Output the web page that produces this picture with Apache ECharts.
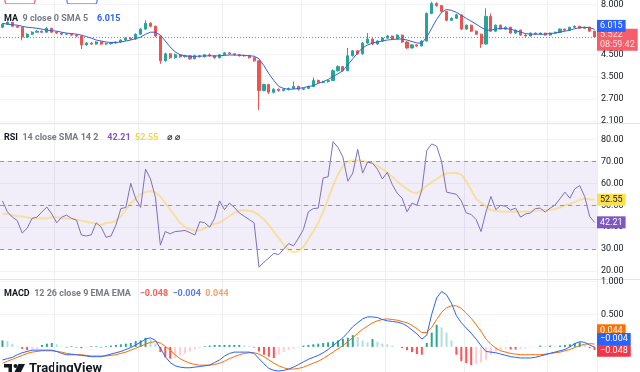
<!DOCTYPE html>
<html><head><meta charset="utf-8">
<script src="https://cdn.jsdelivr.net/npm/echarts@6/dist/echarts.min.js"></script>
<style>html,body{margin:0;padding:0;background:#fff}#c{width:640px;height:372px}</style>
</head><body><div id="c"></div>
<script>
// ---- price candles (open, close, low, high) ----
const opens = [
6.16,6.38,6.52,6.23,6.16,5.50,5.69,5.82,5.89,5.82,
6.09,5.82,5.76,5.69,5.70,5.63,5.57,5.03,5.14,5.08,
5.20,5.08,5.10,5.14,5.20,5.32,5.44,5.38,5.69,6.03,
6.45,6.23,5.57,4.19,4.54,4.34,4.49,4.39,4.44,4.29,
4.44,4.39,4.49,4.44,4.34,4.49,4.59,4.54,4.49,4.44,
4.45,4.34,4.19,2.98,3.19,2.92,3.02,2.98,3.02,3.05,
3.12,3.02,3.05,3.12,3.34,3.27,3.30,3.34,3.74,3.92,
3.74,4.44,4.70,4.54,5.14,5.38,5.08,5.26,5.44,5.57,
5.38,5.63,5.20,4.86,5.03,4.97,5.26,7.22,8.09,7.91,
7.39,6.67,6.83,7.10,6.03,6.31,5.89,5.69,5.08,6.98,
5.89,6.31,6.03,6.16,5.76,5.96,5.63,5.57,5.76,5.69,
5.76,5.63,5.76,5.82,6.03,5.96,6.16,6.23,6.09,6.16,
5.89];
const closes = [
6.38,6.52,6.23,6.16,5.50,5.69,5.82,5.89,5.82,6.09,
5.82,5.76,5.69,5.70,5.63,5.57,5.03,5.14,5.08,5.20,
5.08,5.10,5.14,5.20,5.32,5.44,5.38,5.69,6.03,6.45,
6.23,5.57,4.19,4.54,4.34,4.49,4.39,4.44,4.29,4.44,
4.39,4.49,4.44,4.34,4.49,4.59,4.54,4.49,4.44,4.45,
4.34,4.19,2.98,3.19,2.92,3.02,2.98,3.02,3.05,3.12,
3.02,3.05,3.12,3.34,3.27,3.30,3.34,3.74,3.92,3.74,
4.44,4.70,4.54,5.14,5.38,5.08,5.26,5.44,5.57,5.38,
5.63,5.20,4.86,5.03,4.97,5.26,7.22,8.09,7.91,7.39,
6.67,6.83,7.10,6.03,6.31,5.89,5.69,5.08,6.98,5.89,
6.31,6.03,6.16,5.76,5.96,5.63,5.57,5.76,5.69,5.76,
5.63,5.76,5.82,6.03,5.96,6.16,6.23,6.09,6.16,5.89,
5.522];
const lows = [
6.10,6.33,6.20,6.10,5.30,5.45,5.65,5.78,5.76,5.78,
5.78,5.70,5.64,5.63,5.58,5.50,4.80,4.98,5.02,5.04,
5.02,5.02,5.05,5.10,5.16,5.28,5.32,5.34,5.65,5.98,
6.15,5.50,4.05,4.15,4.28,4.30,4.33,4.35,4.24,4.26,
4.34,4.36,4.40,4.30,4.31,4.45,4.50,4.45,4.40,4.39,
4.30,4.15,2.38,2.95,2.86,2.88,2.94,2.95,2.98,3.02,
2.98,2.99,3.03,3.10,3.22,3.24,3.26,3.32,3.70,3.70,
3.72,4.40,4.48,4.50,5.10,5.02,5.04,5.22,5.40,5.33,
5.35,5.15,4.80,4.82,4.92,4.94,5.22,7.15,7.80,7.30,
6.60,6.62,6.78,5.98,5.98,5.84,5.64,4.86,5.05,5.84,
5.85,5.98,5.98,5.72,5.72,5.58,5.52,5.54,5.65,5.66,
5.60,5.60,5.72,5.78,5.92,5.92,6.12,6.05,6.05,5.85,
5.48];
const highs = [
6.45,6.60,6.55,6.28,6.20,5.75,5.88,5.95,5.93,6.20,
6.12,5.86,5.80,5.74,5.74,5.68,5.60,5.20,5.20,5.25,
5.24,5.16,5.20,5.24,5.36,5.50,5.48,5.75,6.10,6.67,
6.52,6.28,5.60,4.60,4.58,4.55,4.52,4.48,4.47,4.50,
4.48,4.53,4.56,4.47,4.52,4.63,4.64,4.58,4.53,4.50,
4.48,4.38,4.22,3.22,3.22,3.06,3.05,3.05,3.08,3.30,
3.15,3.08,3.15,3.46,3.38,3.33,3.37,3.80,3.98,3.95,
4.86,4.75,4.75,5.20,5.76,5.42,5.30,5.50,5.65,5.60,
5.68,5.66,5.24,5.08,5.06,5.30,7.30,8.25,8.20,7.95,
7.45,6.90,7.20,7.12,6.36,6.35,5.94,5.72,7.65,7.20,
6.36,6.35,6.22,6.20,6.00,6.00,5.70,5.80,5.80,5.80,
5.78,5.80,5.86,6.08,6.06,6.20,6.28,6.27,6.20,6.20,
5.92];
const maValues = [
6.45,6.38,6.34,6.31,6.23,6.16,6.13,6.09,6.03,5.96,
5.92,5.89,5.82,5.76,5.73,5.69,5.63,5.53,5.44,5.32,
5.26,5.20,5.17,5.17,5.20,5.26,5.32,5.41,5.50,5.69,
5.82,5.82,5.63,5.26,4.91,4.64,4.49,4.44,4.41,4.41,
4.42,4.43,4.44,4.43,4.44,4.46,4.48,4.48,4.47,4.46,
4.44,4.42,4.29,3.96,3.61,3.34,3.12,3.05,3.02,3.03,
3.05,3.08,3.12,3.15,3.23,3.30,3.38,3.50,3.61,3.74,
4.00,4.29,4.59,4.86,5.03,5.14,5.20,5.26,5.32,5.35,
5.38,5.38,5.32,5.23,5.14,5.14,5.50,6.09,6.75,7.31,
7.56,7.48,7.31,7.06,6.83,6.60,6.38,6.16,5.96,5.96,
6.03,6.09,6.06,6.03,5.92,5.82,5.73,5.69,5.69,5.69,
5.69,5.73,5.76,5.82,5.89,5.96,6.06,6.13,6.16,6.13,
6.015];
// ---- RSI ----
const rsiValues = [
52,47,44.6,43,37.3,39.5,44,44.6,47,49.2,
46,42,44.6,45.5,44,43.2,36.4,36,36.5,42,
40,35.4,36,41,48.5,49,60,53,49,66.5,
62,53.7,31.8,38,37,38,38.2,38.5,37.5,36.4,
42.5,42,40,44,52,48,51,49,46.5,45,
43.5,42,21.7,24,26,28,27.5,30,32.5,31.5,
35,39,47,48.5,48.7,62.5,63,79,76.5,72,
61,64.7,75.5,64.7,69.7,69.2,66.5,62,65,59.5,
55.5,53.2,47,51,50,57,75,78,77,70,
56,55.5,55,52,46.5,45.8,43.5,38,47,54,
48,50,49.5,47.8,48.7,44.6,46,46.5,48.5,48.7,
46.9,48.7,50.1,53,56,53.2,57.5,59,54,45,
42.21];
const rsiSmaValues = [
46,46,45.5,45,45,44.5,44,44,44,44,44.5,44.5,44,44,44,43.5,43,42.5,42,41.5,41,
42,42,43,45,48,51,
53,55,56,56.5,56,
54,51,48,45,42,40,39,38.5,38.5,
39.5,40.5,41.5,42,
43.5,45,46.5,47.5,47.8,47.5,47,
45.5,43.5,41,38,35,32,29.5,28.6,29,
31,34.5,38,42,47,53,
59,64,68,70,70.6,70.6,70.3,69.8,69,
68,66.5,65,63,61,59,57.5,56,55.5,
57,59,60.5,62,63.5,64.5,64.7,64.7,
64,61,57,53,51,49.5,47.8,
47.5,47.2,47,47,47,47,47.2,47.3,47.5,47.6,47.8,48,48.3,
49,50,50.5,51.5,52.5,53,52.8,52.55];
// ---- MACD ----
const macdValues = [
-0.20,-0.18,-0.16,-0.12,-0.09,-0.07,-0.05,-0.05,-0.05,-0.05,
-0.05,-0.07,-0.10,-0.12,-0.12,-0.12,-0.13,-0.14,-0.15,-0.15,
-0.15,-0.13,-0.11,-0.09,-0.07,-0.04,-0.01,0.03,0.07,0.12,
0.14,0.10,-0.02,-0.15,-0.24,-0.29,-0.31,-0.32,-0.32,-0.31,
-0.30,-0.29,-0.28,-0.24,-0.20,-0.14,-0.10,-0.08,-0.08,-0.08,
-0.08,-0.10,-0.18,-0.26,-0.33,-0.36,-0.37,-0.36,-0.34,-0.31,
-0.27,-0.23,-0.19,-0.16,-0.13,-0.09,-0.04,0.02,0.08,0.14,
0.22,0.31,0.37,0.43,0.46,0.46,0.45,0.42,0.40,0.39,
0.38,0.36,0.32,0.26,0.20,0.12,0.18,0.50,0.75,0.85,
0.80,0.67,0.48,0.37,0.29,0.21,0.12,0.02,-0.07,-0.08,
-0.09,-0.11,-0.13,-0.15,-0.16,-0.17,-0.17,-0.17,-0.16,-0.14,
-0.12,-0.10,-0.08,-0.06,-0.04,0.00,0.05,0.08,0.07,0.03,
-0.004];
const signalValues = [
-0.25,-0.22,-0.19,-0.16,-0.13,-0.10,-0.08,-0.07,-0.06,-0.06,
-0.06,-0.07,-0.08,-0.10,-0.11,-0.12,-0.12,-0.13,-0.14,-0.14,
-0.14,-0.14,-0.13,-0.12,-0.10,-0.08,-0.05,-0.02,0.01,0.04,
0.07,0.08,0.06,0.01,-0.05,-0.12,-0.18,-0.22,-0.25,-0.27,
-0.28,-0.28,-0.28,-0.27,-0.25,-0.22,-0.18,-0.15,-0.12,-0.10,
-0.09,-0.09,-0.11,-0.15,-0.20,-0.25,-0.29,-0.32,-0.34,-0.34,
-0.33,-0.31,-0.28,-0.25,-0.22,-0.18,-0.13,-0.08,-0.03,0.02,
0.08,0.14,0.21,0.27,0.32,0.37,0.40,0.42,0.43,0.42,
0.41,0.39,0.37,0.33,0.28,0.22,0.22,0.30,0.42,0.53,
0.60,0.63,0.63,0.59,0.52,0.44,0.34,0.24,0.12,0.04,
-0.02,-0.06,-0.08,-0.10,-0.11,-0.12,-0.12,-0.12,-0.12,-0.12,
-0.11,-0.10,-0.09,-0.08,-0.06,-0.04,-0.01,0.02,0.04,0.05,
0.044];
const histValues = [
0.10,0.09,0.05,0.01,-0.03,-0.05,-0.04,-0.03,0.03,0.05,
0.06,0.04,0.01,-0.01,0.01,-0.01,-0.02,-0.01,0.01,0.01,
-0.01,0.01,0.02,0.03,0.04,0.05,0.06,0.09,0.10,0.14,
0.12,0.05,-0.08,-0.16,-0.18,-0.17,-0.13,-0.10,-0.07,-0.04,
-0.02,0.01,0.02,0.03,0.03,0.03,0.03,0.03,0.03,0.02,
0.01,-0.01,-0.07,-0.12,-0.15,-0.17,-0.12,-0.08,-0.05,-0.03,
-0.01,0.02,0.03,0.04,0.05,0.06,0.07,0.08,0.10,0.12,
0.14,0.18,0.15,0.10,0.07,0.12,0.08,0.05,0.04,0.02,
0.00,-0.02,-0.05,-0.08,-0.11,-0.12,0.06,0.22,0.34,0.30,
0.22,0.10,-0.12,-0.22,-0.25,-0.28,-0.26,-0.24,-0.20,-0.12,
-0.07,-0.04,-0.03,-0.04,-0.04,-0.03,-0.02,-0.01,0.00,0.02,
0.01,0.02,0.01,0.02,0.03,0.04,0.06,0.07,0.03,-0.02,
-0.048];
// ---- ticks / texts ----
const priceTicks = [2.1, 2.7, 3.5, 4.5, 8.0];
const rsiTicks = [20, 30, 40, 50, 60, 70, 80];
const rsiLevels = [70, 50, 30];
const macdTicks = [0.5, 1.0];
const timeGridIdx = [11, 28, 45, 61, 78, 94, 111];
const quoteTexts = ['5.522', '5.382', '5.524'];
const countdown = '08:59:42';

const FONT = 'Roboto, "DejaVu Sans", sans-serif';
const cats = closes.map((_, i) => String(i));
const last = a => a[a.length - 1];
const sgn3 = v => (v < 0 ? '\u2212' : '') + Math.abs(v).toFixed(3);
const candles = opens.map((o, i) => [o, closes[i], lows[i], highs[i]]);
const histData = histValues.map((v, i) => {
  const p = i > 0 ? histValues[i - 1] : v;
  let c;
  if (v >= 0) c = v >= p ? '#26A69A' : '#B2DFDB';
  else c = v <= p ? '#FF5252' : '#FFCDD2';
  return { value: v, itemStyle: { color: c } };
});

function xAx(gi) {
  return { type: 'category', gridIndex: gi, data: cats, boundaryGap: true,
    axisLine: { show: false }, axisTick: { show: false }, axisLabel: { show: false },
    splitLine: { show: true, interval: (idx) => timeGridIdx.includes(idx), lineStyle: { color: '#eceef2', width: 1 } } };
}
const labelStyle = { color: '#131722', fontSize: 9, fontFamily: FONT, margin: 4 };
function tag(val, text, bg, fg, dy) {
  return {
    symbol: 'none', silent: true, animation: false,
    lineStyle: { color: 'rgba(0,0,0,0)', width: 1, type: 'solid' },
    label: { show: true, position: 'end', distance: 0, formatter: text, backgroundColor: bg, color: fg,
      fontSize: 9, fontFamily: FONT, padding: [1, 3, 1, 3], lineHeight: 10, offset: [0, dy] },
    data: [{ yAxis: val }]
  };
}

const chart = echarts.init(document.getElementById('c'), null, { renderer: 'canvas' });
chart.setOption({
  animation: false,
  backgroundColor: '#ffffff',
  grid: [
    { left: 0, right: 43, top: 0, height: 122 },
    { left: 0, right: 43, top: 124, height: 154 },
    { left: 0, right: 43, top: 280, height: 92 }
  ],
  xAxis: [xAx(0), xAx(1), xAx(2)],
  yAxis: [
    { type: 'log', logBase: 10, gridIndex: 0, position: 'right', min: 2.075, max: 8.277,
      axisLine: { show: false }, axisTick: { show: false, customValues: priceTicks },
      axisLabel: Object.assign({ customValues: priceTicks, formatter: v => Number(v).toFixed(3) }, labelStyle),
      splitLine: { show: true, lineStyle: { color: '#f2f3f6' } } },
    { type: 'value', gridIndex: 1, position: 'right', min: 16.8, max: 87.1,
      axisLine: { show: false }, axisTick: { show: false, customValues: rsiTicks },
      axisLabel: Object.assign({ customValues: rsiTicks, formatter: v => Number(v).toFixed(2) }, labelStyle),
      splitLine: { show: true, lineStyle: { color: '#f2f3f6' } } },
    { type: 'value', gridIndex: 2, position: 'right', min: -0.385, max: 1.026,
      axisLine: { show: false }, axisTick: { show: false, customValues: macdTicks },
      axisLabel: Object.assign({ customValues: macdTicks, formatter: v => Number(v).toFixed(3) }, labelStyle),
      splitLine: { show: true, lineStyle: { color: '#f2f3f6' } } }
  ],
  title: [
    { left: 4, top: 10, padding: 0,
      text: '{n|MA} {p|9 close 0 SMA 5}  {v|' + last(maValues).toFixed(3) + '}',
      textStyle: { fontFamily: FONT, rich: {
        n: { color: '#131722', fontSize: 9, fontFamily: FONT },
        p: { color: '#787B86', fontSize: 9, fontFamily: FONT },
        v: { color: '#2962FF', fontSize: 9, fontFamily: FONT } } } },
    { left: 4, top: 129, padding: 0,
      text: '{n|RSI} {p|14 close SMA 14 2}  {a|' + last(rsiValues).toFixed(2) + '} {b|' + last(rsiSmaValues).toFixed(2) + '}  {n|\u2300 \u2300}',
      textStyle: { fontFamily: FONT, rich: {
        n: { color: '#131722', fontSize: 9, fontFamily: FONT },
        p: { color: '#787B86', fontSize: 9, fontFamily: FONT },
        a: { color: '#7E57C2', fontSize: 9, fontFamily: FONT },
        b: { color: '#F5D547', fontSize: 9, fontFamily: FONT } } } },
    { left: 4, top: 285, padding: 0,
      text: '{n|MACD} {p|12 26 close 9 EMA EMA}  {r|' + sgn3(last(histValues)) + '} {b|' + sgn3(last(macdValues)) + '} {o|' + sgn3(last(signalValues)) + '}',
      textStyle: { fontFamily: FONT, rich: {
        n: { color: '#131722', fontSize: 9, fontFamily: FONT },
        p: { color: '#787B86', fontSize: 9, fontFamily: FONT },
        r: { color: '#F7625B', fontSize: 9, fontFamily: FONT },
        b: { color: '#5B7CE6', fontSize: 9, fontFamily: FONT },
        o: { color: '#F5A26B', fontSize: 9, fontFamily: FONT } } } }
  ],
  series: [
    { type: 'candlestick', xAxisIndex: 0, yAxisIndex: 0, data: candles, barWidth: 2.6,
      itemStyle: { color: '#26A69A', color0: '#EF5350', borderColor: '#26A69A', borderColor0: '#EF5350', borderWidth: 1 },
      markLine: {
        symbol: 'none', silent: true, animation: false,
        lineStyle: { color: '#F23645', type: [1, 2], width: 1, opacity: 0.8 },
        label: { show: true, position: 'end', distance: 0, formatter: last(closes).toFixed(3) + '\n' + countdown,
          backgroundColor: '#F23645', color: '#fff', fontSize: 9, fontFamily: FONT, padding: [1, 3, 1, 3], lineHeight: 10, offset: [0, 3] },
        data: [{ yAxis: last(closes) }] } },
    { type: 'line', xAxisIndex: 0, yAxisIndex: 0, data: maValues, symbol: 'none', z: 3,
      lineStyle: { color: '#3461D8', width: 1 },
      markLine: tag(last(maValues), last(maValues).toFixed(3), '#2962FF', '#fff', -3.5) },
    { type: 'line', xAxisIndex: 1, yAxisIndex: 1, data: rsiSmaValues, symbol: 'none',
      lineStyle: { color: 'rgba(247,214,90,0.55)', width: 2 },
      markLine: tag(last(rsiSmaValues), last(rsiSmaValues).toFixed(2), '#FBE14B', '#131722', 0) },
    { type: 'line', xAxisIndex: 1, yAxisIndex: 1, data: rsiValues, symbol: 'none', z: 4,
      lineStyle: { color: '#7E6FBF', width: 1 },
      markArea: { silent: true, itemStyle: { color: 'rgba(126,87,194,0.1)' },
        data: [[{ yAxis: rsiLevels[2] }, { yAxis: rsiLevels[0] }]] },
      markLine: { symbol: 'none', silent: true, animation: false,
        lineStyle: { color: '#9598A1', type: [4, 4], width: 1 }, label: { show: false },
        data: rsiLevels.map(v => ({ yAxis: v })) } },
    { type: 'line', xAxisIndex: 1, yAxisIndex: 1, data: [], symbol: 'none',
      markLine: tag(last(rsiValues), last(rsiValues).toFixed(2), '#7E57C2', '#fff', 0) },
    { type: 'bar', xAxisIndex: 2, yAxisIndex: 2, data: histData, barWidth: 2,
      markLine: tag(last(histValues), sgn3(last(histValues)), '#F23645', '#fff', 0.5) },
    { type: 'line', xAxisIndex: 2, yAxisIndex: 2, data: signalValues, symbol: 'none',
      lineStyle: { color: '#FF6D00', width: 1 },
      markLine: tag(last(signalValues), sgn3(last(signalValues)), '#FF6D00', '#fff', -14) },
    { type: 'line', xAxisIndex: 2, yAxisIndex: 2, data: macdValues, symbol: 'none',
      lineStyle: { color: '#2962FF', width: 1 },
      markLine: tag(last(macdValues), sgn3(last(macdValues)), '#2962FF', '#fff', -8) }
  ],
  graphic: [
    { type: 'line', silent: true, shape: { x1: 0, y1: 123.5, x2: 640, y2: 123.5 }, style: { stroke: '#e0e3eb', lineWidth: 1 } },
    { type: 'line', silent: true, shape: { x1: 0, y1: 279.5, x2: 640, y2: 279.5 }, style: { stroke: '#e0e3eb', lineWidth: 1 } },
    { type: 'rect', silent: true, shape: { x: 5, y: -9, width: 30, height: 13, r: 2 }, style: { fill: '#fff', stroke: '#F23645', lineWidth: 1 } },
    { type: 'text', silent: true, style: { x: 20, y: -2, text: quoteTexts[0], fill: '#F23645', font: 'bold 9px ' + FONT, align: 'center', verticalAlign: 'middle' } },
    { type: 'text', silent: true, style: { x: 51, y: -2, text: quoteTexts[1], fill: '#131722', font: '9px ' + FONT, align: 'center', verticalAlign: 'middle' } },
    { type: 'rect', silent: true, shape: { x: 67, y: -9, width: 30, height: 13, r: 2 }, style: { fill: '#fff', stroke: '#2962FF', lineWidth: 1 } },
    { type: 'text', silent: true, style: { x: 82, y: -2, text: quoteTexts[2], fill: '#2962FF', font: 'bold 9px ' + FONT, align: 'center', verticalAlign: 'middle' } },
    { type: 'rect', silent: true, shape: { x: 4, y: 364, width: 8, height: 3.5 }, style: { fill: '#131722' } },
    { type: 'rect', silent: true, shape: { x: 8.5, y: 364, width: 3.5, height: 9 }, style: { fill: '#131722' } },
    { type: 'circle', silent: true, shape: { cx: 15.5, cy: 366, r: 2 }, style: { fill: '#131722' } },
    { type: 'polygon', silent: true, shape: { points: [[18.5, 364], [25, 364], [20.5, 373], [14, 373]] }, style: { fill: '#131722' } },
    { type: 'text', silent: true, style: { x: 29, y: 362, text: 'TradingView', fill: '#131722', font: 'bold 13px ' + FONT, verticalAlign: 'top' } }
  ]
});
</script>
</body></html>
